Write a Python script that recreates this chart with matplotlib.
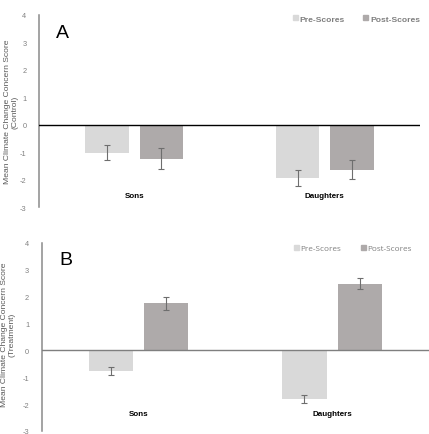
import matplotlib
matplotlib.use("Agg")
import matplotlib.pyplot as plt
import numpy as np
from matplotlib.patches import Patch

plt.rcParams['font.family'] = ['Liberation Sans', 'DejaVu Sans']

categories = ["Sons", "Daughters"]
series = ["Pre-Scores", "Post-Scores"]

# panel A (control)
a_pre = [-1.00, -1.93]
a_pre_err = [0.29, 0.30]
a_post = [-1.22, -1.62]
a_post_err = [0.38, 0.34]

# panel B (treatment)
b_pre = [-0.77, -1.81]
b_pre_err = [0.14, 0.15]
b_post = [1.75, 2.49]
b_post_err = [0.25, 0.19]

yticks = [-3, -2, -1, 0, 1, 2, 3, 4]

PRE_COL = "#d9d9d9"
POST_COL = "#aeaaaa"
TICK_COL = "#808080"

W, H = 429, 435
fig = plt.figure(figsize=(W / 100, H / 100), dpi=100)


def px_axes(left, top, right, bottom):
    return fig.add_axes([left / W, 1 - bottom / H, (right - left) / W, (bottom - top) / H])


def draw_panel(ax, pre, pre_err, post, post_err, letter, zero_col, leg):
    x = np.arange(len(categories))
    w, off = 0.23, 0.143
    ax.bar(x - off, pre, w, color=PRE_COL, zorder=2)
    ax.bar(x + off, post, w, color=POST_COL, zorder=2)
    ax.errorbar(x - off, pre, yerr=pre_err, fmt="none", ecolor="#6e6e6e",
                elinewidth=0.8, capsize=2.2, capthick=0.8, zorder=3)
    ax.errorbar(x + off, post, yerr=post_err, fmt="none", ecolor="#6e6e6e",
                elinewidth=0.8, capsize=2.2, capthick=0.8, zorder=3)
    ax.axhline(0, color=zero_col, lw=1.0, zorder=4)
    ax.set_xlim(-0.5, 1.5)
    ax.set_ylim(-3, 4)
    ax.set_yticks(yticks)
    ax.set_yticklabels([str(t) for t in yticks], fontsize=5.3, color=TICK_COL)
    ax.tick_params(axis="y", length=0, pad=9)
    ax.set_xticks([])
    for s in ["top", "right", "bottom"]:
        ax.spines[s].set_visible(False)
    ax.spines["left"].set_color("#8a8a8a")
    ax.spines["left"].set_linewidth(1.1)
    ax.text(0.045, 0.91, letter, transform=ax.transAxes, fontsize=14, va="center", ha="left")
    for i, c in enumerate(categories):
        ax.text(i, 0.06, c, transform=ax.get_xaxis_transform(), fontsize=5.8,
                fontweight="bold", ha="center", va="center")
    handles = [Patch(color=PRE_COL, label=series[0]), Patch(color=POST_COL, label=series[1])]
    ax.legend(handles=handles, loc="upper right", bbox_to_anchor=leg["anchor"], ncol=2,
              frameon=False, handlelength=0.6, handleheight=0.6, handletextpad=0.2,
              columnspacing=leg["spacing"],
              prop={"family": leg["font"], "size": leg["size"], "weight": leg["weight"]},
              labelcolor="#7f7f7f")


ax_a = px_axes(39, 16, 420, 208.5)
draw_panel(ax_a, a_pre, a_pre_err, a_post, a_post_err, "A", "black",
           {"anchor": (1.02, 1.04), "spacing": 2.2, "font": "Liberation Sans",
            "size": 6.1, "weight": "bold"})
fig.text(11 / W, 1 - 112 / H, "Mean Climate Change Concern Score\n(Control)", rotation=90,
         ha="center", va="center", fontsize=6.1, color="#595959", linespacing=1.05)

ax_b = px_axes(41.7, 244, 429, 432)
draw_panel(ax_b, b_pre, b_pre_err, b_post, b_post_err, "B", "#7f7f7f",
           {"anchor": (0.975, 1.03), "spacing": 2.4, "font": "Open Sans",
            "size": 5.9, "weight": "normal"})
for t in ax_b.texts[1:]:
    t.set_y(0.095)
fig.text(8 / W, 1 - 335 / H, "Mean Climate Change Concern Score\n(Treatment)", rotation=90,
         ha="center", va="center", fontsize=6.1, color="#595959", linespacing=1.05)

fig.savefig("out.png", dpi=100)
